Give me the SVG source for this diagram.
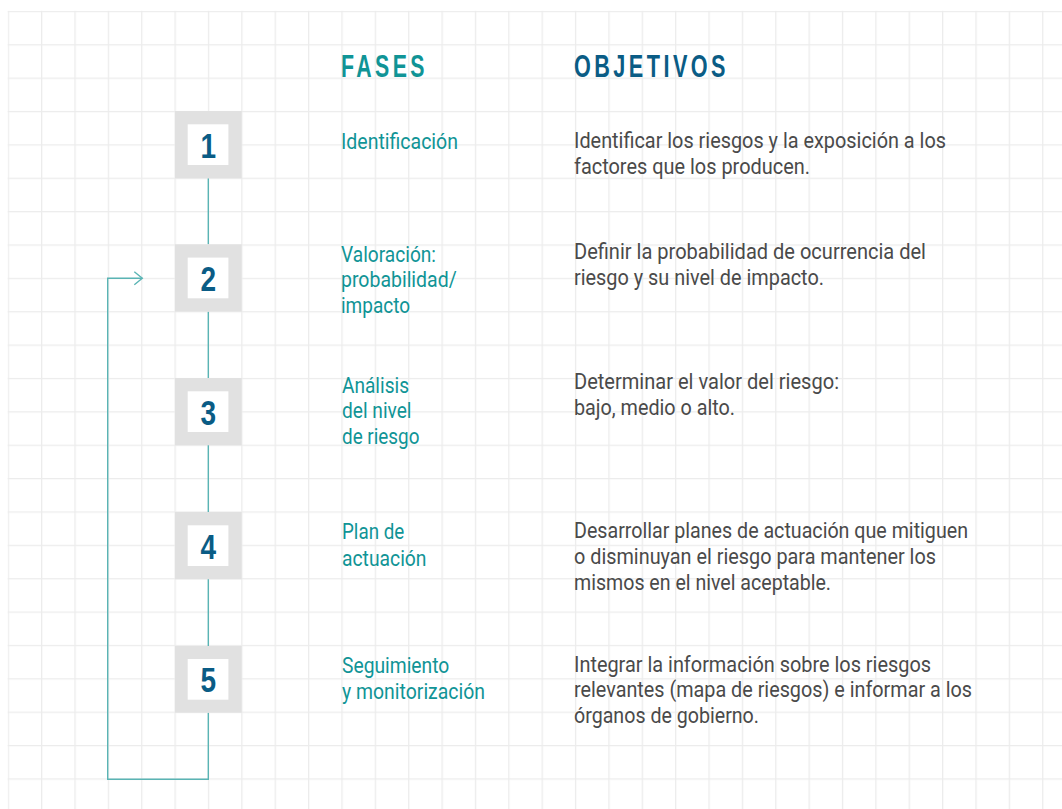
<svg xmlns="http://www.w3.org/2000/svg" width="1062" height="809" viewBox="0 0 1062 809">
  <style>
    .head{font-family:"Liberation Sans",Arial,sans-serif;font-weight:700;font-size:31px;letter-spacing:5px}
    .fase{font-family:Roboto,"Liberation Sans",sans-serif;font-weight:400;font-size:22px;fill:#109496}
    .obj{font-family:Roboto,"Liberation Sans",sans-serif;font-weight:400;font-size:22px;fill:#4a4a4a}
    .num{font-family:"Liberation Sans",Arial,sans-serif;font-weight:700;font-size:35px;fill:#0a5c85;text-anchor:middle}
    .box{fill:#e1e1e1}
    .inner{fill:#ffffff}
    .conn{fill:none;stroke:#5ab4b4;stroke-width:1.4}
  </style>
  <defs>
    <pattern id="grid" x="7.65" y="10.85" width="33.37" height="33.37" patternUnits="userSpaceOnUse">
      <path d="M0 0.65H33.37M0.65 0V33.37" stroke="#ececec" stroke-width="1.3" fill="none"/>
    </pattern>
    <marker id="chev" markerUnits="userSpaceOnUse" markerWidth="12" markerHeight="16" refX="9" refY="7.5" orient="auto">
      <path d="M1 1L9 7.5L1 14" fill="none" stroke="#5ab4b4" stroke-width="1.4"/>
    </marker>
  </defs>
  <rect width="1062" height="809" fill="#ffffff"/>
  <rect x="7.65" y="10.85" width="1060" height="805" fill="url(#grid)"/>

  <g id="headers">
    <text class="head" x="341" y="77" fill="#109496" textLength="87" lengthAdjust="spacingAndGlyphs">FASES</text>
    <text class="head" x="574" y="77" fill="#0a5c85" textLength="155" lengthAdjust="spacingAndGlyphs">OBJETIVOS</text>
  </g>

  <g id="connectors">
    <path class="conn" d="M208.3 178.3V244.3M208.3 311.7V378M208.3 445V512M208.3 579V646"/>
    <path class="conn" d="M208.3 712.7V779.3H107.7V278.3H142.3" marker-end="url(#chev)"/>
  </g>

  <g id="node1">
    <rect class="box" x="175" y="111" width="66.7" height="67.3"/>
    <rect class="inner" x="187.7" y="124.3" width="40.7" height="40.7"/>
    <text class="num" transform="translate(208.3 157.6) scale(0.8 1)">1</text>
    <text class="fase" x="341" y="149.3" textLength="117" lengthAdjust="spacingAndGlyphs">Identificación</text>
    <text class="obj" x="574" y="148.3" textLength="372" lengthAdjust="spacingAndGlyphs">Identificar los riesgos y la exposición a los</text>
    <text class="obj" x="574" y="174.3" textLength="236" lengthAdjust="spacingAndGlyphs">factores que los producen.</text>
  </g>

  <g id="node2">
    <rect class="box" x="175" y="244.3" width="66.7" height="67.3"/>
    <rect class="inner" x="187.7" y="257.6" width="40.7" height="40.7"/>
    <text class="num" transform="translate(208.3 290.9) scale(0.8 1)">2</text>
    <text class="fase" x="341" y="261.7" textLength="95" lengthAdjust="spacingAndGlyphs">Valoración:</text>
    <text class="fase" x="341" y="286.7" textLength="115.7" lengthAdjust="spacingAndGlyphs">probabilidad/</text>
    <text class="fase" x="341" y="312.7" textLength="69" lengthAdjust="spacingAndGlyphs">impacto</text>
    <text class="obj" x="574" y="259" textLength="352" lengthAdjust="spacingAndGlyphs">Definir la probabilidad de ocurrencia del</text>
    <text class="obj" x="574" y="285" textLength="250" lengthAdjust="spacingAndGlyphs">riesgo y su nivel de impacto.</text>
  </g>

  <g id="node3">
    <rect class="box" x="175" y="378" width="66.7" height="67.3"/>
    <rect class="inner" x="187.7" y="391.3" width="40.7" height="40.7"/>
    <text class="num" transform="translate(208.3 424.6) scale(0.8 1)">3</text>
    <text class="fase" x="342" y="392.5" textLength="67" lengthAdjust="spacingAndGlyphs">Análisis</text>
    <text class="fase" x="342" y="418" textLength="69.5" lengthAdjust="spacingAndGlyphs">del nivel</text>
    <text class="fase" x="342" y="443.5" textLength="77.5" lengthAdjust="spacingAndGlyphs">de riesgo</text>
    <text class="obj" x="574" y="389" textLength="265" lengthAdjust="spacingAndGlyphs">Determinar el valor del riesgo:</text>
    <text class="obj" x="574" y="415" textLength="161" lengthAdjust="spacingAndGlyphs">bajo, medio o alto.</text>
  </g>

  <g id="node4">
    <rect class="box" x="175" y="512" width="66.7" height="67.3"/>
    <rect class="inner" x="187.7" y="525.3" width="40.7" height="40.7"/>
    <text class="num" transform="translate(208.3 558.6) scale(0.8 1)">4</text>
    <text class="fase" x="342" y="539.3" textLength="62.3" lengthAdjust="spacingAndGlyphs">Plan de</text>
    <text class="fase" x="342" y="565.7" textLength="84.5" lengthAdjust="spacingAndGlyphs">actuación</text>
    <text class="obj" x="574" y="538.3" textLength="394" lengthAdjust="spacingAndGlyphs">Desarrollar planes de actuación que mitiguen</text>
    <text class="obj" x="574" y="564.3" textLength="362" lengthAdjust="spacingAndGlyphs">o disminuyan el riesgo para mantener los</text>
    <text class="obj" x="574" y="590" textLength="257" lengthAdjust="spacingAndGlyphs">mismos en el nivel aceptable.</text>
  </g>

  <g id="node5">
    <rect class="box" x="175" y="646" width="66.7" height="66.7"/>
    <rect class="inner" x="187.7" y="659" width="40.7" height="40.7"/>
    <text class="num" transform="translate(208.3 692.3) scale(0.8 1)">5</text>
    <text class="fase" x="342" y="673.3" textLength="107.3" lengthAdjust="spacingAndGlyphs">Seguimiento</text>
    <text class="fase" x="342" y="699" textLength="143" lengthAdjust="spacingAndGlyphs">y monitorización</text>
    <text class="obj" x="574" y="671.7" textLength="357" lengthAdjust="spacingAndGlyphs">Integrar la información sobre los riesgos</text>
    <text class="obj" x="574" y="697.3" textLength="398" lengthAdjust="spacingAndGlyphs">relevantes (mapa de riesgos) e informar a los</text>
    <text class="obj" x="574" y="723.3" textLength="185" lengthAdjust="spacingAndGlyphs">órganos de gobierno.</text>
  </g>
</svg>
